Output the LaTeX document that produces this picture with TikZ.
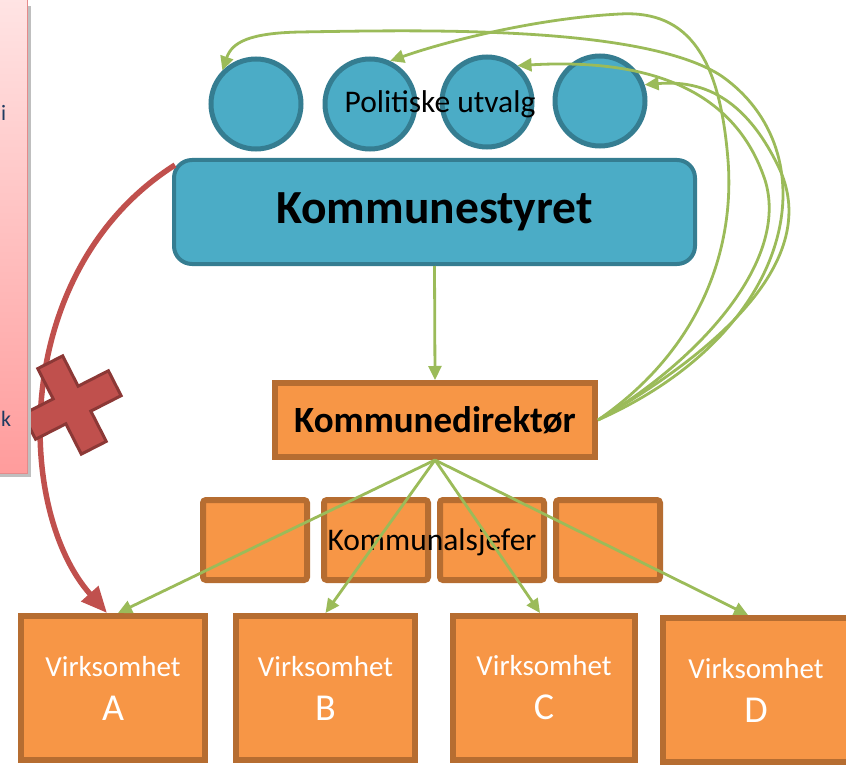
\documentclass[tikz,border=0pt]{standalone}
\usepackage{fontspec}
\setmainfont{Carlito}
\usetikzlibrary{arrows.meta,shapes.geometric}
\definecolor{tealfill}{HTML}{4BACC6}
\definecolor{tealline}{HTML}{357D91}
\definecolor{orangefill}{HTML}{F79646}
\definecolor{orangeline}{HTML}{B66D31}
\definecolor{arrowgreen}{HTML}{9BBB59}
\definecolor{crossred}{HTML}{C0504D}
\definecolor{crossline}{HTML}{8C3836}
\definecolor{pinktop}{HTML}{FFE4E4}
\definecolor{pinkbottom}{HTML}{FF9C9C}
\definecolor{pinkline}{HTML}{E58A8A}
\definecolor{paneltext}{HTML}{1F3A60}

\begin{document}
\begin{tikzpicture}[x=1pt,y=-1pt,
  utvalg/.style={ellipse, draw=tealline, fill=tealfill, line width=5pt, minimum width=90pt, minimum height=90pt, inner sep=0pt},
  sjefbox/.style={rectangle, rounded corners=3pt, draw=orangeline, fill=orangefill, line width=6pt, minimum width=104pt, minimum height=80pt, inner sep=0pt},
  virkbox/.style={rectangle, draw=orangeline, fill=orangefill, line width=6pt, minimum width=184pt, minimum height=144pt, inner sep=0pt, text=white, align=center, font=\fontsize{29}{44}\selectfont},
  gline/.style={draw=arrowgreen, line width=2.8pt, -{Triangle[length=14pt,width=13pt]}},
  rline/.style={draw=crossred, line width=5.5pt, -{Triangle[length=26pt,width=22pt]}}]
\useasboundingbox (0,0) rectangle (846,765);

% politisk nivaa
\node[rectangle, rounded corners=18pt, draw=tealline, fill=tealfill, line width=4pt, minimum width=521pt, minimum height=104pt, font=\fontsize{47.5}{50}\selectfont\bfseries] (styret) at (434.5,212) {Kommunestyret};
\node[utvalg] (utv1) at (256,104) {};
\node[utvalg] (utv2) at (370,104) {};
\node[utvalg] (utv3) at (487,102) {};
\node[utvalg] (utv4) at (600,101) {};
\node[font=\fontsize{31.5}{34}\selectfont] (utvtekst) at (440,104) {Politiske utvalg};

% administrasjon
\node[rectangle, draw=orangeline, fill=orangefill, line width=6pt, minimum width=320pt, minimum height=74pt, font=\fontsize{37}{40}\selectfont\bfseries] (direktor) at (435,420) {Kommunedirektør};
\node[sjefbox] (sjef1) at (255,540) {};
\node[sjefbox] (sjef2) at (376,540) {};
\node[sjefbox] (sjef3) at (492,540) {};
\node[sjefbox] (sjef4) at (608,540) {};
\node[font=\fontsize{31.5}{34}\selectfont] (sjeftekst) at (432,542) {Kommunalsjefer};

\node[virkbox] (virkA) at (113,688) {Virksomhet\\{\fontsize{38}{44}\selectfont A}};
\node[virkbox, minimum width=179pt] (virkB) at (325.5,688) {Virksomhet\\{\fontsize{38}{44}\selectfont B}};
\node[virkbox, minimum width=182pt] (virkC) at (544,688) {Virksomhet\\{\fontsize{38}{44}\selectfont C}};
\node[virkbox, minimum width=186pt] (virkD) at (756,690) {Virksomhet\\{\fontsize{38}{44}\selectfont D}};

% styringslinjer
\draw[gline] (styret.south) -- (direktor.north);
\draw[gline] (direktor.south) -- ([xshift=5pt]virkA.north);
\draw[gline] (direktor.south) -- (virkB.north);
\draw[gline] (direktor.south) -- ([xshift=-4pt]virkC.north);
\draw[gline] (direktor.south) -- ([xshift=-8pt]virkD.north);
\draw[gline] (direktor.east) .. controls (800,330) and (830,150) .. (720,75) .. controls (640,25) and (420,30) .. (300,32) .. controls (250,33) and (232,42) .. (utv1.135);
\draw[gline] (direktor.east) .. controls (700,350) and (735,250) .. (728,160) .. controls (720,60) and (690,10) .. (620,14) .. controls (540,18) and (450,40) .. (utv2.65);
\draw[gline] (direktor.east) .. controls (700,360) and (790,260) .. (765,180) .. controls (735,90) and (650,58) .. (utv3.50);
\draw[gline] (direktor.east) .. controls (720,350) and (820,260) .. (780,170) .. controls (745,95) and (700,80) .. (utv4.20);

% direkte linje som ikke skal brukes
\draw[rline] ([shift={(3pt,-7pt)}]styret.north west) .. controls (10,270) and (15,510) .. ([xshift=-6pt]virkA.north);
\begin{scope}[shift={(72,405)}, rotate=27]
\draw[fill=crossred, draw=crossline, line width=3pt] (14,48) -- (14,14) -- (48,14) -- (48,-14) -- (14,-14) -- (14,-48) -- (-14,-48) -- (-14,-14) -- (-48,-14) -- (-48,14) -- (-14,14) -- (-14,48) -- cycle;
\end{scope}

% panel til venstre
\fill[black!25] (-2,6) rectangle (31,477);
\shade[top color=pinktop, bottom color=pinkbottom, draw=pinkline, line width=1pt] (-2,-2) rectangle (27,473);
\node[anchor=base west, text=paneltext, inner sep=0pt, font=\fontsize{22}{24}\selectfont] (paneli) at (1,121) {i};
\node[anchor=base west, text=paneltext, inner sep=0pt, font=\fontsize{22}{24}\selectfont] (panelk) at (1,426) {k};
\end{tikzpicture}
\end{document}
